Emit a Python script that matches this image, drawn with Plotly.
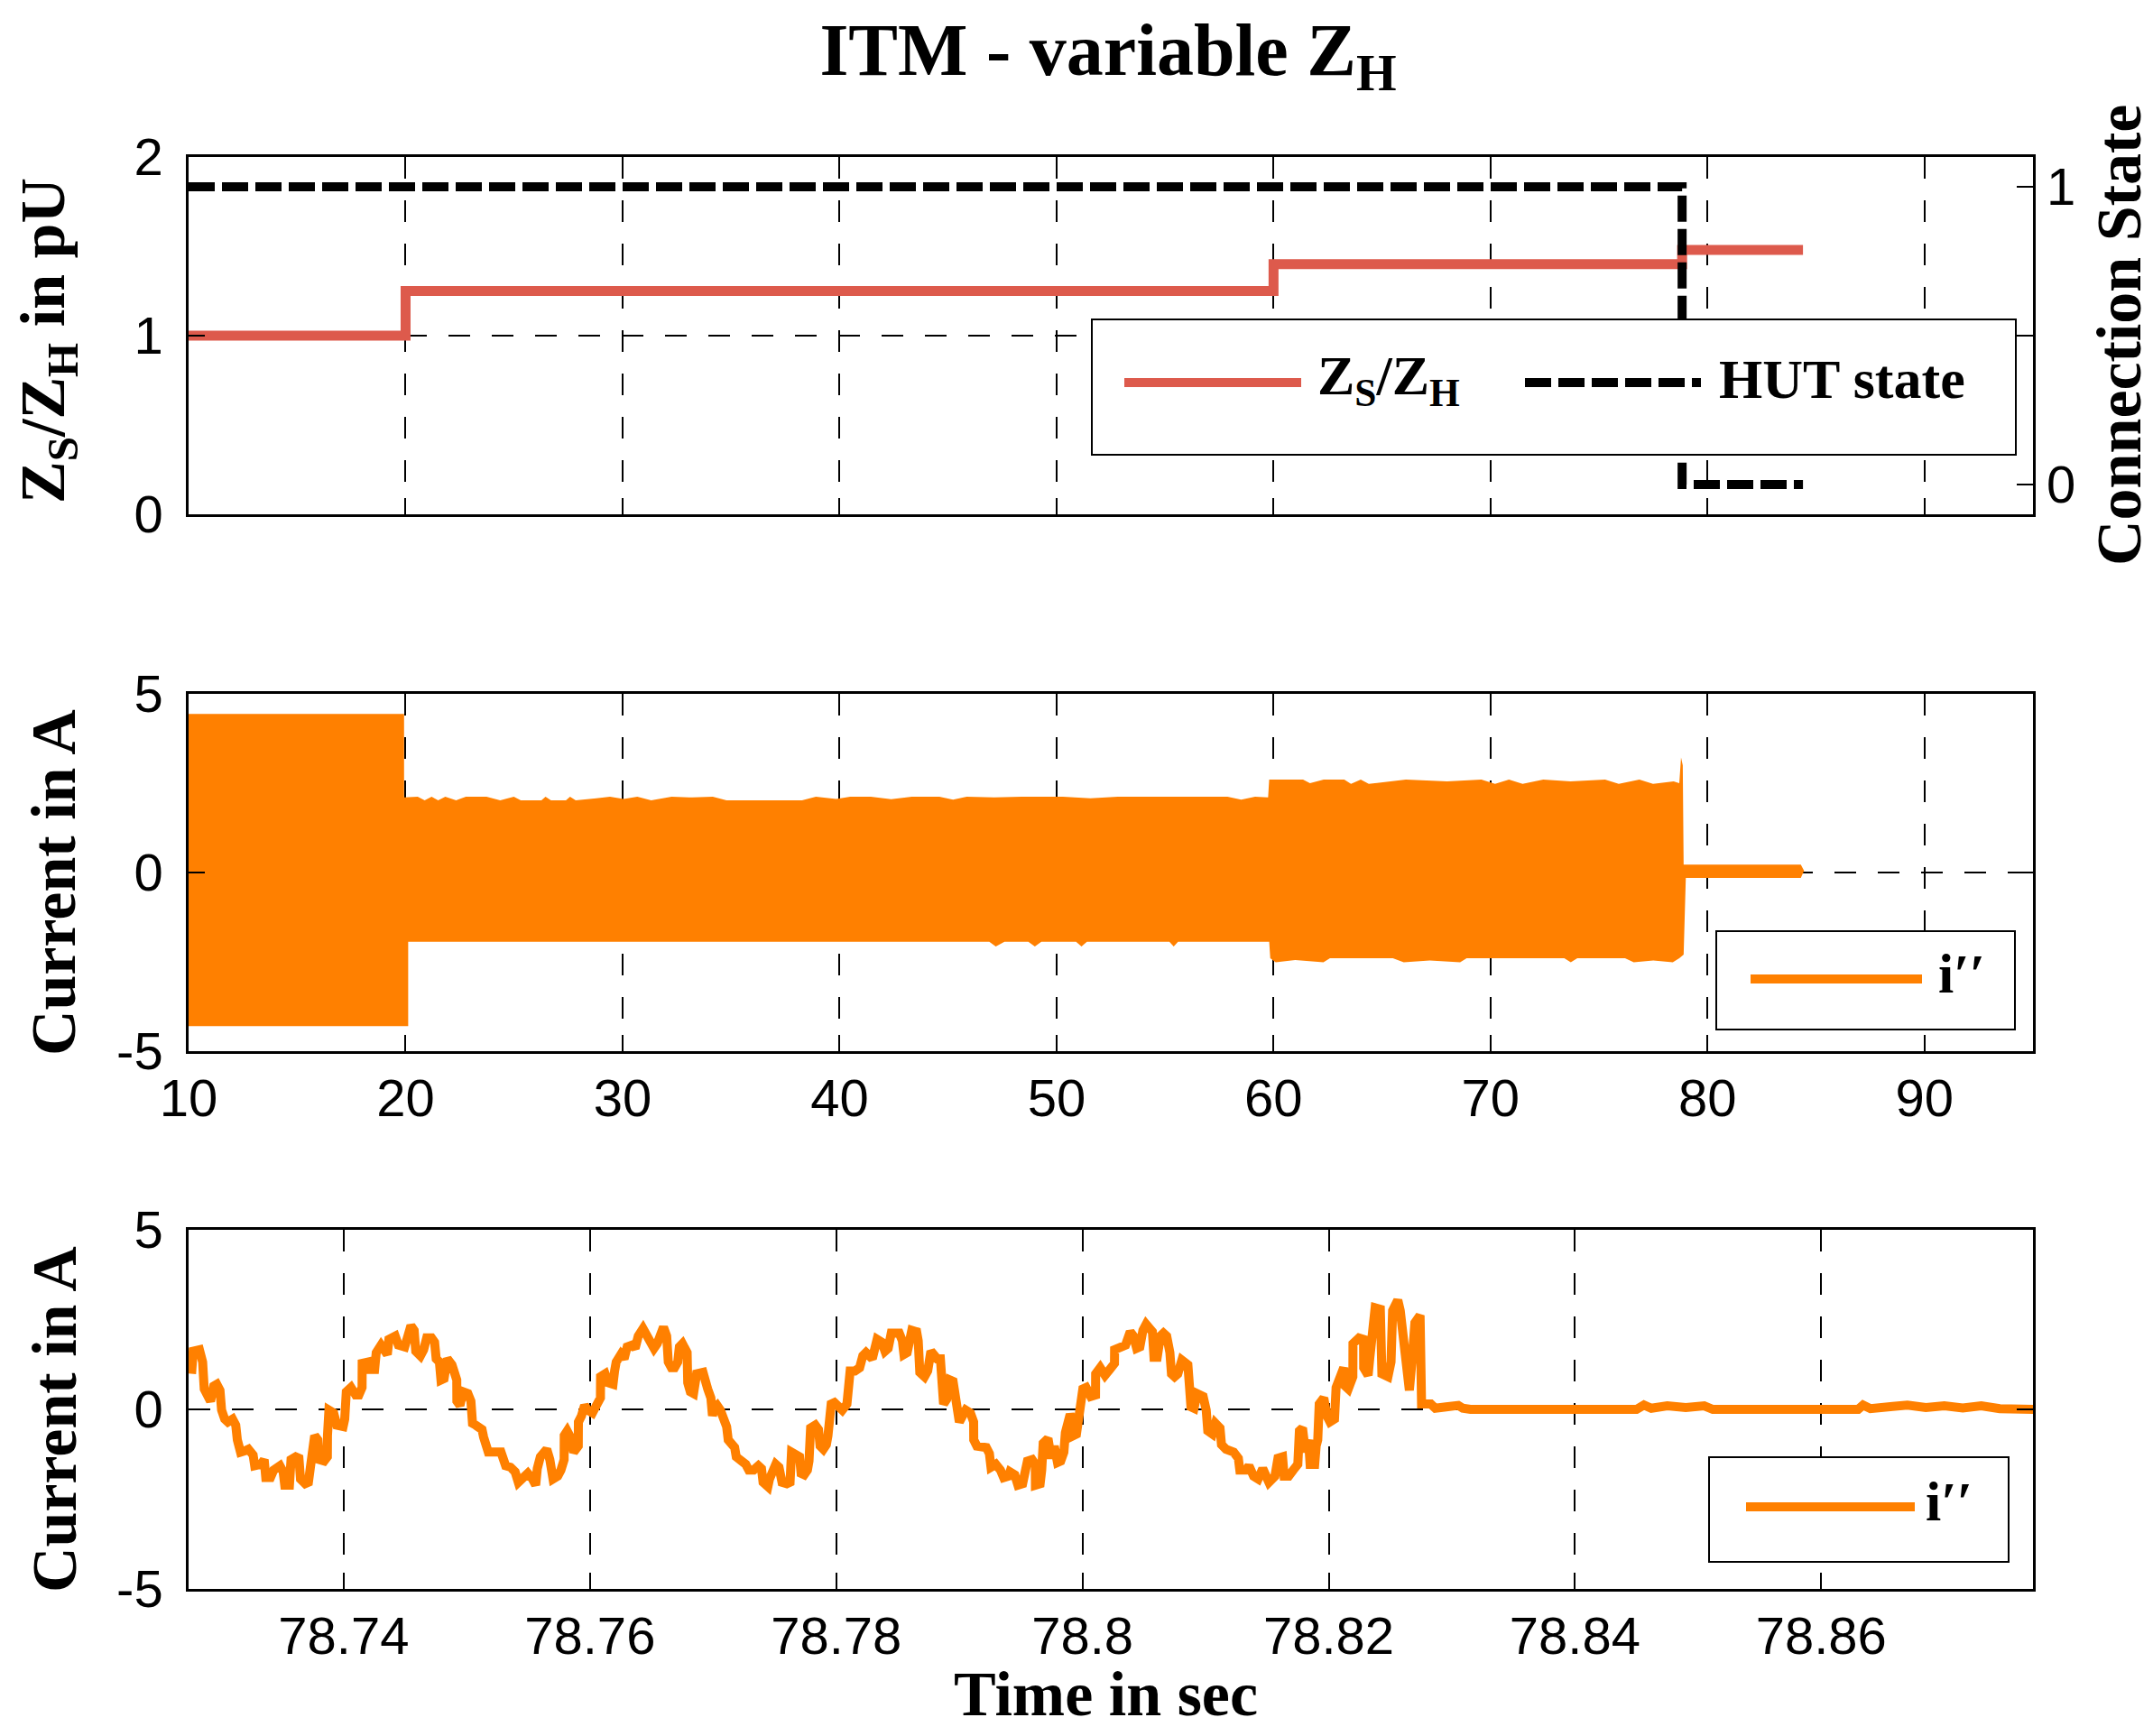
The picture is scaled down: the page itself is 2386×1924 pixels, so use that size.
import plotly.graph_objects as go

# ---------------------------------------------------------------------------
# top panel: Z_S/Z_H ratio (left axis) and HUT connection state (right axis)
ratio_t = [10, 20, 60, 78.83, 84.4]
ratio_v = [1.0, 1.25, 1.4, 1.48, 1.48]
hut_t = [10, 78.83, 84.4]
hut_v = [1, 0, 0]

# middle panel: i'' over the whole run. The 50 Hz wave is far too dense to
# resolve at this scale, so only its upper / lower envelope is kept.
env_up_t = [10.0, 19.93, 19.93, 20.56, 20.88, 21.2, 21.5, 21.83, 22.33, 22.78,
            23.73, 24.36, 24.99, 25.31, 26.26, 26.45, 26.70, 27.39, 27.58, 27.84,
            28.79, 29.42, 30.05, 30.68, 31.32, 32.26, 33.21, 34.16, 34.79, 38.27,
            38.91, 39.85, 40.49, 41.44, 42.38, 43.33, 44.60, 45.23, 45.86, 47.13,
            48.39, 50.29, 51.56, 52.82, 55.35, 57.88, 58.51, 59.15, 59.75, 59.8,
            61.36, 61.68, 62.31, 63.26, 63.57, 64.02, 64.39, 66.10, 68.0, 69.58,
            70.21, 70.85, 71.48, 72.43, 73.69, 75.28, 75.91, 76.86, 77.49, 78.44,
            78.70, 78.78, 78.86, 78.90, 84.3, 84.45]
env_up_v = [4.44, 4.44, 2.10, 2.12, 2.02, 2.12, 2.02, 2.12, 2.02, 2.12,
            2.12, 2.02, 2.12, 2.02, 2.02, 2.12, 2.02, 2.02, 2.12, 2.02,
            2.08, 2.12, 2.06, 2.12, 2.02, 2.12, 2.10, 2.12, 2.02, 2.02,
            2.12, 2.06, 2.12, 2.12, 2.05, 2.12, 2.12, 2.04, 2.12, 2.10,
            2.12, 2.12, 2.08, 2.12, 2.12, 2.12, 2.04, 2.12, 2.10, 2.60,
            2.60, 2.50, 2.60, 2.60, 2.48, 2.60, 2.48, 2.60, 2.55, 2.60,
            2.48, 2.60, 2.48, 2.60, 2.55, 2.60, 2.48, 2.60, 2.48, 2.55,
            2.50, 3.22, 3.00, 0.22, 0.22, 0.05]
env_lo_t = [10.0, 20.12, 20.12, 46.9, 47.2, 47.6, 48.7, 49.0, 49.3, 50.9,
            51.15, 51.4, 55.2, 55.4, 55.6, 59.8, 59.85, 60.1, 61.0, 62.3,
            62.6, 65.5, 66.0, 67.2, 68.6, 68.9, 73.4, 73.7, 74.0, 76.2,
            76.6, 77.5, 78.4, 78.7, 78.9, 79.0, 84.3, 84.45]
env_lo_v = [-4.30, -4.30, -1.94, -1.94, -2.07, -1.94, -1.94, -2.07, -1.94, -1.94,
            -2.07, -1.94, -1.94, -2.07, -1.94, -1.94, -2.40, -2.51, -2.45, -2.51,
            -2.40, -2.40, -2.51, -2.46, -2.51, -2.40, -2.40, -2.51, -2.40, -2.40,
            -2.51, -2.46, -2.51, -2.40, -2.30, -0.15, -0.15, 0.05]

# bottom panel: i'' around the disconnection instant
zoom_t = [
    78.72764, 78.72777, 78.72828, 78.72854, 78.72867, 78.72892, 78.72918, 78.72944,
    78.72969, 78.72995, 78.73008, 78.73033, 78.73059, 78.73097, 78.73123, 78.73136,
    78.73162, 78.73200, 78.73226, 78.73264, 78.73277, 78.73328, 78.73354, 78.73367,
    78.73405, 78.73431, 78.73482, 78.73508, 78.73521, 78.73559, 78.73572, 78.73610,
    78.73636, 78.73649, 78.73687, 78.73713, 78.73726, 78.73738, 78.73764, 78.73790,
    78.73803, 78.73841, 78.73867, 78.73868, 78.73880, 78.73918, 78.73944, 78.73995,
    78.74008, 78.74021, 78.74059, 78.74097, 78.74123, 78.74149, 78.74150, 78.74200,
    78.74213, 78.74251, 78.74264, 78.74303, 78.74328, 78.74354, 78.74367, 78.74418,
    78.74444, 78.74495, 78.74521, 78.74546, 78.74572, 78.74585, 78.74623, 78.74649,
    78.74674, 78.74713, 78.74738, 78.74751, 78.74777, 78.74790, 78.74815, 78.74828,
    78.74841, 78.74879, 78.74918, 78.74919, 78.74944, 78.74969, 78.75008, 78.75033,
    78.75046, 78.75072, 78.75123, 78.75136, 78.75162, 78.75174, 78.75277, 78.75303,
    78.75315, 78.75354, 78.75392, 78.75418, 78.75456, 78.75495, 78.75533, 78.75559,
    78.75572, 78.75597, 78.75649, 78.75674, 78.75700, 78.75738, 78.75764, 78.75790,
    78.75791, 78.75815, 78.75841, 78.75867, 78.75905, 78.75906, 78.75931, 78.75956,
    78.75982, 78.76020, 78.76046, 78.76085, 78.76086, 78.76123, 78.76149, 78.76187,
    78.76200, 78.76213, 78.76251, 78.76277, 78.76302, 78.76341, 78.76367, 78.76392,
    78.76431, 78.76456, 78.76495, 78.76520, 78.76546, 78.76572, 78.76597, 78.76623,
    78.76636, 78.76661, 78.76687, 78.76713, 78.76726, 78.76751, 78.76789, 78.76794,
    78.76815, 78.76841, 78.76866, 78.76918, 78.76943, 78.76956, 78.76982, 78.76995,
    78.77008, 78.77033, 78.77059, 78.77085, 78.77110, 78.77123, 78.77149, 78.77175,
    78.77188, 78.77226, 78.77265, 78.77290, 78.77329, 78.77368, 78.77393, 78.77406,
    78.77445, 78.77458, 78.77483, 78.77509, 78.77535, 78.77560, 78.77599, 78.77625,
    78.77637, 78.77676, 78.77702, 78.77715, 78.77740, 78.77766, 78.77779, 78.77792,
    78.77830, 78.77856, 78.77869, 78.77895, 78.77920, 78.77933, 78.77959, 78.77985,
    78.78010, 78.78049, 78.78087, 78.78100, 78.78113, 78.78152, 78.78190, 78.78216,
    78.78242, 78.78293, 78.78306, 78.78332, 78.78370, 78.78396, 78.78422, 78.78447,
    78.78512, 78.78537, 78.78550, 78.78576, 78.78614, 78.78653, 78.78666, 78.78679,
    78.78717, 78.78743, 78.78769, 78.78820, 78.78846, 78.78859, 78.78872, 78.78897,
    78.78923, 78.78949, 78.78962, 78.78974, 78.79000, 78.79026, 78.79052, 78.79090,
    78.79116, 78.79117, 78.79142, 78.79219, 78.79244, 78.79257, 78.79296, 78.79334,
    78.79360, 78.79399, 78.79411, 78.79450, 78.79476, 78.79514, 78.79540, 78.79553,
    78.79591, 78.79617, 78.79618, 78.79656, 78.79669, 78.79681, 78.79720, 78.79746,
    78.79771, 78.79797, 78.79823, 78.79849, 78.79861, 78.79874, 78.79900, 78.79926,
    78.79927, 78.79951, 78.79964, 78.79990, 78.80003, 78.80029, 78.80067, 78.80106,
    78.80107, 78.80144, 78.80183, 78.80221, 78.80260, 78.80261, 78.80311, 78.80350,
    78.80388, 78.80414, 78.80440, 78.80466, 78.80491, 78.80517, 78.80568, 78.80581,
    78.80607, 78.80633, 78.80658, 78.80684, 78.80710, 78.80723, 78.80748, 78.80774,
    78.80807, 78.80856, 78.80869, 78.80881, 78.80906, 78.80931, 78.80980, 78.81005,
    78.81018, 78.81055, 78.81080, 78.81117, 78.81129, 78.81166, 78.81228, 78.81266,
    78.81278, 78.81328, 78.81352, 78.81390, 78.81427, 78.81464, 78.81514, 78.81563,
    78.81588, 78.81625, 78.81638, 78.81675, 78.81712, 78.81749, 78.81762, 78.81787,
    78.81811, 78.81836, 78.81849, 78.81886, 78.81898, 78.81911, 78.81923, 78.81960,
    78.81985, 78.82010, 78.82047, 78.82060, 78.82084, 78.82122, 78.82134, 78.82159,
    78.82196, 78.82197, 78.82246, 78.82283, 78.82284, 78.82320, 78.82333, 78.82357,
    78.82377, 78.82419, 78.82432, 78.82481, 78.82506, 78.82519, 78.82561, 78.82581,
    78.82618, 78.82655, 78.82680, 78.82700, 78.82742, 78.82754, 78.82829, 78.82866,
    78.82953, 78.83052, 78.83089, 78.83151, 78.8450, 78.8456, 78.8462, 78.8475,
    78.8490, 78.8505, 78.8512, 78.8630, 78.8634, 78.8640, 78.8658, 78.8670,
    78.8685, 78.8700, 78.8715, 78.8730, 78.8745, 78.8760, 78.8775,
]
zoom_i = [
    0.99, 1.62, 1.66, 1.32, 0.57, 0.40, 0.23, 0.65,
    0.70, 0.53, -0.02, -0.27, -0.35, -0.27, -0.44, -0.85,
    -1.19, -1.15, -1.11, -1.27, -1.57, -1.53, -1.40, -1.90,
    -1.90, -1.69, -1.57, -1.74, -2.11, -2.11, -1.40, -1.32,
    -1.36, -1.94, -2.07, -2.03, -1.69, -1.06, -0.73, -0.85,
    -1.40, -1.44, -1.32, -0.73, -0.02, -0.10, -0.44, -0.48,
    -0.27, 0.49, 0.61, 0.40, 0.40, 0.61, 1.28, 1.32,
    1.11, 1.11, 1.58, 1.79, 1.66, 1.53, 1.95, 2.04,
    1.79, 1.74, 2.04, 2.33, 2.20, 1.62, 1.49, 1.66,
    1.99, 1.99, 1.87, 1.41, 1.32, 0.82, 0.86, 1.32,
    1.41, 1.24, 0.82, 0.23, 0.11, 0.49, 0.44, 0.23,
    -0.39, -0.44, -0.56, -0.77, -1.02, -1.19, -1.19, -1.40,
    -1.57, -1.61, -1.74, -2.03, -1.94, -1.78, -1.94, -2.11,
    -1.65, -1.32, -1.11, -1.40, -1.94, -1.86, -1.69, -1.40,
    -0.73, -0.60, -0.77, -1.19, -1.02, -0.35, -0.18, 0.11,
    -0.02, -0.10, 0.07, 0.32, 0.91, 0.99, 0.74, 0.70,
    1.07, 1.32, 1.53, 1.41, 1.74, 1.79, 1.70, 2.04,
    2.25, 2.08, 1.95, 1.70, 1.83, 2.20, 2.29, 2.04,
    1.32, 1.16, 1.16, 1.32, 1.74, 1.83, 1.58, 0.74,
    0.49, 0.44, 0.99, 1.03, 0.82, 0.57, 0.32, -0.18,
    0.03, 0.11, -0.02, -0.27, -0.48, -0.85, -0.94, -1.06,
    -1.32, -1.40, -1.53, -1.69, -1.69, -1.57, -1.65, -2.03,
    -2.15, -1.94, -1.69, -1.53, -1.61, -2.03, -2.07, -2.03,
    -1.19, -1.23, -1.32, -1.78, -1.82, -1.69, -1.44, -0.52,
    -0.44, -0.56, -1.02, -1.11, -0.98, -0.73, 0.15, 0.19,
    0.07, -0.02, 0.15, 0.53, 1.07, 1.07, 1.16, 1.49,
    1.58, 1.41, 1.70, 1.95, 1.87, 1.62, 1.70, 2.12,
    2.12, 1.91, 1.53, 1.58, 2.20, 2.16, 1.91, 1.03,
    0.91, 1.07, 1.62, 1.41, 1.41, 0.82, 0.15, 0.28,
    0.82, 0.78, 0.49, -0.18, -0.35, -0.18, -0.02, -0.10,
    -0.35, -0.85, -1.02, -1.06, -1.23, -1.61, -1.53, -1.69,
    -1.90, -1.86, -1.74, -1.82, -2.11, -2.07, -1.78, -1.44,
    -1.40, -1.53, -2.11, -2.07, -1.69, -0.94, -0.81, -1.36,
    -1.02, -1.48, -1.44, -1.19, -0.65, -0.44, -0.14, -0.35,
    -0.73, -0.69, -0.35, -0.02, 0.57, 0.61, 0.36, 0.40,
    0.99, 1.16, 0.95, 1.11, 1.28, 1.66, 1.70, 1.79,
    2.16, 2.04, 1.70, 1.74, 2.20, 2.37, 2.16, 1.45,
    1.45, 2.04, 2.12, 2.04, 1.58, 0.99, 0.91, 0.99,
    1.37, 1.24, 0.65, 0.07, 0.03, 0.44, 0.36, -0.02,
    -0.60, -0.69, -0.39, -0.52, -0.98, -1.11, -1.19, -1.36,
    -1.69, -1.69, -1.57, -1.86, -1.94, -1.65, -2.03, -1.86,
    -1.36, -1.32, -1.86, -1.86, -1.69, -1.53, -0.60, -0.52,
    -1.19, -0.85, -1.53, -1.53, -1.02, -0.85, 0.15, 0.32,
    -0.18, -0.35, -0.27, 0.61, 0.82, 1.16, 0.65, 0.57,
    0.91, 1.83, 1.99, 1.95, 1.16, 0.95, 1.41, 2.16,
    2.83, 2.79, 0.99, 0.91, 1.32, 2.75, 3.04, 2.75,
    1.58, 0.53, 1.49, 2.41, 2.62, 0.15, 0.15, 0.03,
    0.07, 0.11, 0.03, 0.00, 0.00, 0.12, 0.03, 0.10,
    0.05, 0.10, 0.00, 0.00, 0.12, 0.02, 0.08, 0.12,
    0.05, 0.10, 0.04, 0.10, 0.02, 0.00, 0.00,
]

zoom_tickvals = [78.74, 78.76, 78.78, 78.80, 78.82, 78.84, 78.86]
zoom_ticktext = ['78.74', '78.76', '78.78', '78.8', '78.82', '78.84', '78.86']
cur_tickvals = [-5, 0, 5]
cur_ticktext = ['-5', '0', '5']

# ---------------------------------------------------------------------------
W, H = 2386, 1924
ML, MR, MT, MB = 201, 141, 166, 171
PW, PH = W - ML - MR, H - MT - MB


def px(x):
    # pixel column -> paper x
    return (x - ML) / PW


def py(y):
    # pixel row (from top) -> paper y
    return (H - MB - y) / PH


SERIF = 'Liberation Serif'
SANS = 'Liberation Sans'
RED = '#dd5a4c'
ORANGE = '#ff8000'
HUT_DASH = '29px,8px'

label_font = dict(family=SERIF, size=70, color='black', weight='bold')
legend_font = dict(family=SERIF, size=62, color='black', weight='bold')
tick_font = dict(family=SANS, size=58, color='black')

fig = go.Figure()
fig.add_trace(go.Scatter(x=ratio_t, y=ratio_v, mode='lines', name='ZS/ZH',
                         line=dict(color=RED, width=11, shape='hv'),
                         xaxis='x', yaxis='y'))
fig.add_trace(go.Scatter(x=hut_t, y=hut_v, mode='lines', name='HUT state',
                         line=dict(color='black', width=10, shape='hv', dash=HUT_DASH),
                         xaxis='x', yaxis='y4'))
band_x = env_up_t + env_lo_t[::-1]
band_y = env_up_v + env_lo_v[::-1]
fig.add_trace(go.Scatter(x=band_x, y=band_y, mode='lines', fill='toself',
                         fillcolor=ORANGE, line=dict(color=ORANGE, width=0),
                         xaxis='x2', yaxis='y2'))
fig.add_trace(go.Scatter(x=zoom_t, y=zoom_i, mode='lines',
                         line=dict(color=ORANGE, width=10),
                         xaxis='x3', yaxis='y3'))


def axis(**kw):
    base = dict(showline=True, linecolor='black', linewidth=2.5, mirror='ticks',
                ticks='inside', ticklen=18, tickwidth=2, tickcolor='black',
                showgrid=True, gridcolor='black', gridwidth=2, griddash='24px,24px',
                zeroline=False, tickfont=tick_font)
    base.update(kw)
    return base


dom_top = [py(562), 1.0]
dom_mid = [py(1157), py(761)]
dom_bot = [0.0, py(1355)]

fig.update_layout(
    width=W, height=H,
    margin=dict(l=ML, r=MR, t=MT, b=MB),
    paper_bgcolor='white', plot_bgcolor='white',
    showlegend=False,
    title=dict(text='ITM - variable Z<sub>H</sub>', x=px(1220), xref='paper',
               xanchor='center', y=1 - 46 / H, yref='container', yanchor='middle',
               font=dict(family=SERIF, size=82, color='black', weight='bold')),
    xaxis=axis(range=[10, 95], tick0=10, dtick=10, showticklabels=False, anchor='y'),
    yaxis=axis(domain=dom_top, range=[0, 2], dtick=1, anchor='x', ticklabelstandoff=14),
    yaxis4=axis(overlaying='y', side='right', anchor='x', range=[-0.1, 1.1],
                tickvals=[0, 0.5, 1], ticktext=['0', '', '1'], showgrid=False,
                showline=False, mirror=False, ticklabelstandoff=14),
    xaxis2=axis(range=[10, 95], tick0=10, dtick=10, anchor='y2', ticklabelstandoff=0),
    yaxis2=axis(domain=dom_mid, range=[-5, 5], tickvals=cur_tickvals,
                ticktext=cur_ticktext, anchor='x2', ticklabelstandoff=14),
    xaxis3=axis(range=[78.7274, 78.8772], tickvals=zoom_tickvals, ticktext=zoom_ticktext,
                anchor='y3', ticklabelstandoff=0),
    yaxis3=axis(domain=dom_bot, range=[-5, 5], tickvals=cur_tickvals,
                ticktext=cur_ticktext, anchor='x3', ticklabelstandoff=14),
)

# axis titles
ann = [
    dict(text='Z<sub>S</sub>/Z<sub>H</sub> in pU', x=px(45), y=py(370), textangle=-90),
    dict(text='Current in A', x=px(52), y=py(970), textangle=-90),
    dict(text='Current in A', x=px(52), y=py(1565), textangle=-90),
    dict(text='Connection State', x=px(2341), y=py(364), textangle=-90),
    dict(text='Time in sec', x=px(1217), y=py(1869), textangle=0),
]
for a in ann:
    fig.add_annotation(xref='paper', yref='paper', xanchor='center', yanchor='middle',
                       showarrow=False, font=label_font, **a)

# legends (drawn by hand so the long line samples match the original)
box = dict(type='rect', xref='paper', yref='paper', fillcolor='white',
           line=dict(color='black', width=2), layer='above')
fig.add_shape(x0=px(1202), x1=px(2226), y0=py(496), y1=py(346), **box)
fig.add_shape(x0=px(1894), x1=px(2225), y0=py(1133), y1=py(1024), **box)
fig.add_shape(x0=px(1886), x1=px(2218), y0=py(1723), y1=py(1607), **box)

sample = dict(type='line', xref='paper', yref='paper', layer='above')
fig.add_shape(x0=px(1238), x1=px(1434), y0=py(416), y1=py(416),
              line=dict(color=RED, width=10), **sample)
fig.add_shape(x0=px(1682), x1=px(1877), y0=py(416), y1=py(416),
              line=dict(color='black', width=10, dash=HUT_DASH), **sample)
fig.add_shape(x0=px(1932), x1=px(2122), y0=py(1077), y1=py(1077),
              line=dict(color=ORANGE, width=10), **sample)
fig.add_shape(x0=px(1927), x1=px(2114), y0=py(1662), y1=py(1662),
              line=dict(color=ORANGE, width=10), **sample)

leg_text = [
    dict(text='Z<sub>S</sub>/Z<sub>H</sub>', x=px(1450), y=py(412)),
    dict(text='HUT state', x=px(1895), y=py(412)),
    dict(text='i\u2032\u2032', x=px(2138), y=py(1071)),
    dict(text='i\u2032\u2032', x=px(2124), y=py(1656)),
]
for a in leg_text:
    fig.add_annotation(xref='paper', yref='paper', xanchor='left', yanchor='middle',
                       showarrow=False, font=legend_font, **a)

fig.write_html("out.html")
